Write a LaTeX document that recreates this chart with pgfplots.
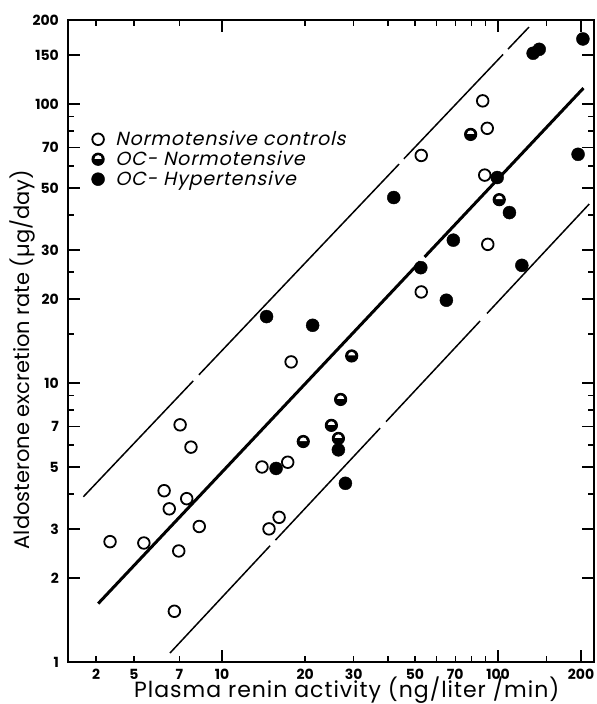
\documentclass[border=0pt]{standalone}
\usepackage{fontspec}
\setmainfont{Poppins}
\newfontfamily\legfont[FakeSlant=0.22,LetterSpace=4.5]{Poppins}
\newfontfamily\labfont[LetterSpace=4.5]{Poppins}
\usepackage{pgfplots}
\pgfplotsset{compat=1.18}

\pgfdeclareplotmark{halfcirc}{%
  \pgfpathcircle{\pgfpointorigin}{\pgfplotmarksize}%
  \pgfusepath{stroke,fill}%
  \begin{pgfscope}%
  \pgfsetfillcolor{white}%
  \pgfpathmoveto{\pgfpoint{0.6\pgfplotmarksize}{0.08\pgfplotmarksize}}%
  \pgfpatharc{0}{180}{0.6\pgfplotmarksize}%
  \pgfpathclose
  \pgfusepath{fill}%
  \end{pgfscope}%
}

\begin{document}
\begin{tikzpicture}
\begin{axis}[
  scale only axis, width=526bp, height=642bp,
  xmode=log, ymode=log,
  xmin=2.767, xmax=222.7, ymin=1, ymax=200,
  axis line style={line width=2bp},
  every tick/.style={black, line width=1.4bp},
  major tick length=12bp, minor tick length=6bp,
  tick align=inside,
  xtick={10,100,200}, xticklabels={10,100,200},
  extra x ticks={3.5,4.8,7,20,30,50,70},
  extra x tick labels={2,5,7,20,30,50,70},
  extra x tick style={major tick length=6bp},
  minor xtick={40,60,80,90,150},
  ytick={1,2,3,5,7,10,20,30,50,70,100,150,200},
  yticklabels={1,2,3,5,7,10,20,30,50,70,100,150,200},
  minor ytick={4,6,8,9,15,25,40,60,80,90},
  /pgf/number format/assume math mode=true,
  ticklabel style={font=\fontsize{14bp}{16bp}\selectfont\bfseries},
  xticklabel style={inner sep=0pt, anchor=north, yshift=-7bp},
  yticklabel style={inner sep=0pt, anchor=east, xshift=-9bp},
  xlabel={Plasma renin activity (ng/liter /min)},
  ylabel={Aldosterone excretion rate (µg/day)},
  xlabel style={font=\labfont\fontsize{22bp}{24bp}\selectfont, at={(axis description cs:0.53,-0.0436)}, anchor=center},
  ylabel style={font=\fontsize{21bp}{24bp}\selectfont, at={(axis description cs:-0.0875,0.471)}, anchor=center},
  legend style={draw=none, fill=none, anchor=north west, at={(axis description cs:0.043,0.83)},
    font=\legfont\fontsize{19bp}{20bp}\selectfont, inner sep=0pt, row sep=0bp,
    legend cell align=left},
  legend image code/.code={\draw[#1] plot coordinates {(0cm,0cm)}; \path (-0.25cm,0cm) (0.53cm,0cm);},
]
% regression line (thick)
\addplot[line width=3bp, forget plot] coordinates {(3.56,1.62) (52.2,27.2)};
\addplot[line width=3bp, forget plot] coordinates {(54.2,28.3) (204,114)};
% upper line
\addplot[line width=1.5bp, forget plot] coordinates {(3.145,3.91) (7.87,10.18)};
\addplot[line width=1.5bp, forget plot] coordinates {(8.25,10.70) (43.8,60.9)};
\addplot[line width=1.5bp, forget plot] coordinates {(45.6,63.6) (104.3,150.5)};
\addplot[line width=1.5bp, forget plot] coordinates {(108.7,157.3) (129.5,188.7)};
% lower line
\addplot[line width=1.5bp, forget plot] coordinates {(6.48,1.077) (14.93,2.61)};
\addplot[line width=1.5bp, forget plot] coordinates {(15.62,2.735) (37.4,6.89)};
\addplot[line width=1.5bp, forget plot] coordinates {(39.3,7.27) (86.1,16.68)};
\addplot[line width=1.5bp, forget plot] coordinates {(91.2,17.75) (214,43.8)};

\addplot[only marks, mark=*, mark size=5.8bp, mark options={fill=white, draw=black, line width=1.8bp}]
coordinates {
(3.93,2.70) (5.21,2.67) (6.17,4.11) (6.44,3.54) (7.45,3.85) (7.05,7.08)
(7.72,5.89) (6.97,2.50) (6.72,1.52) (8.27,3.06) (13.96,5.0) (17.3,5.2)
(14.8,3.0) (16.1,3.3) (17.8,11.9) (52.7,65.4) (88,102.6) (91.4,81.8)
(89.5,55.6) (52.7,21.2) (91.8,31.4)
};
\addlegendentry{Normotensive controls}

\addplot[only marks, mark=halfcirc, mark size=6bp, mark options={fill=black, draw=black, line width=1.2bp}]
coordinates {
(19.7,6.17) (24.9,7.05) (26.4,6.33) (26.9,8.73) (29.5,12.5) (79.6,77.8) (101,45.4)
};
\addlegendentry{OC- Normotensive}

\addplot[only marks, mark=*, mark size=6.5bp, mark options={fill=black, draw=black}]
coordinates {
(15.7,4.94) (26.4,5.76) (28.0,4.37) (14.5,17.3) (21.3,16.1) (41.9,46.2)
(52.5,25.9) (65,19.8) (68.9,32.5) (99.3,54.5) (110,40.8) (122,26.4)
(134,152) (141,157) (203,171) (195,66)
};
\addlegendentry{OC- Hypertensive}
\end{axis}
\pgfresetboundingbox
\path[use as bounding box] ([shift={(-68bp,-42bp)}]current axis.south west) rectangle ([shift={(3bp,20bp)}]current axis.north east);
\end{tikzpicture}
\end{document}
